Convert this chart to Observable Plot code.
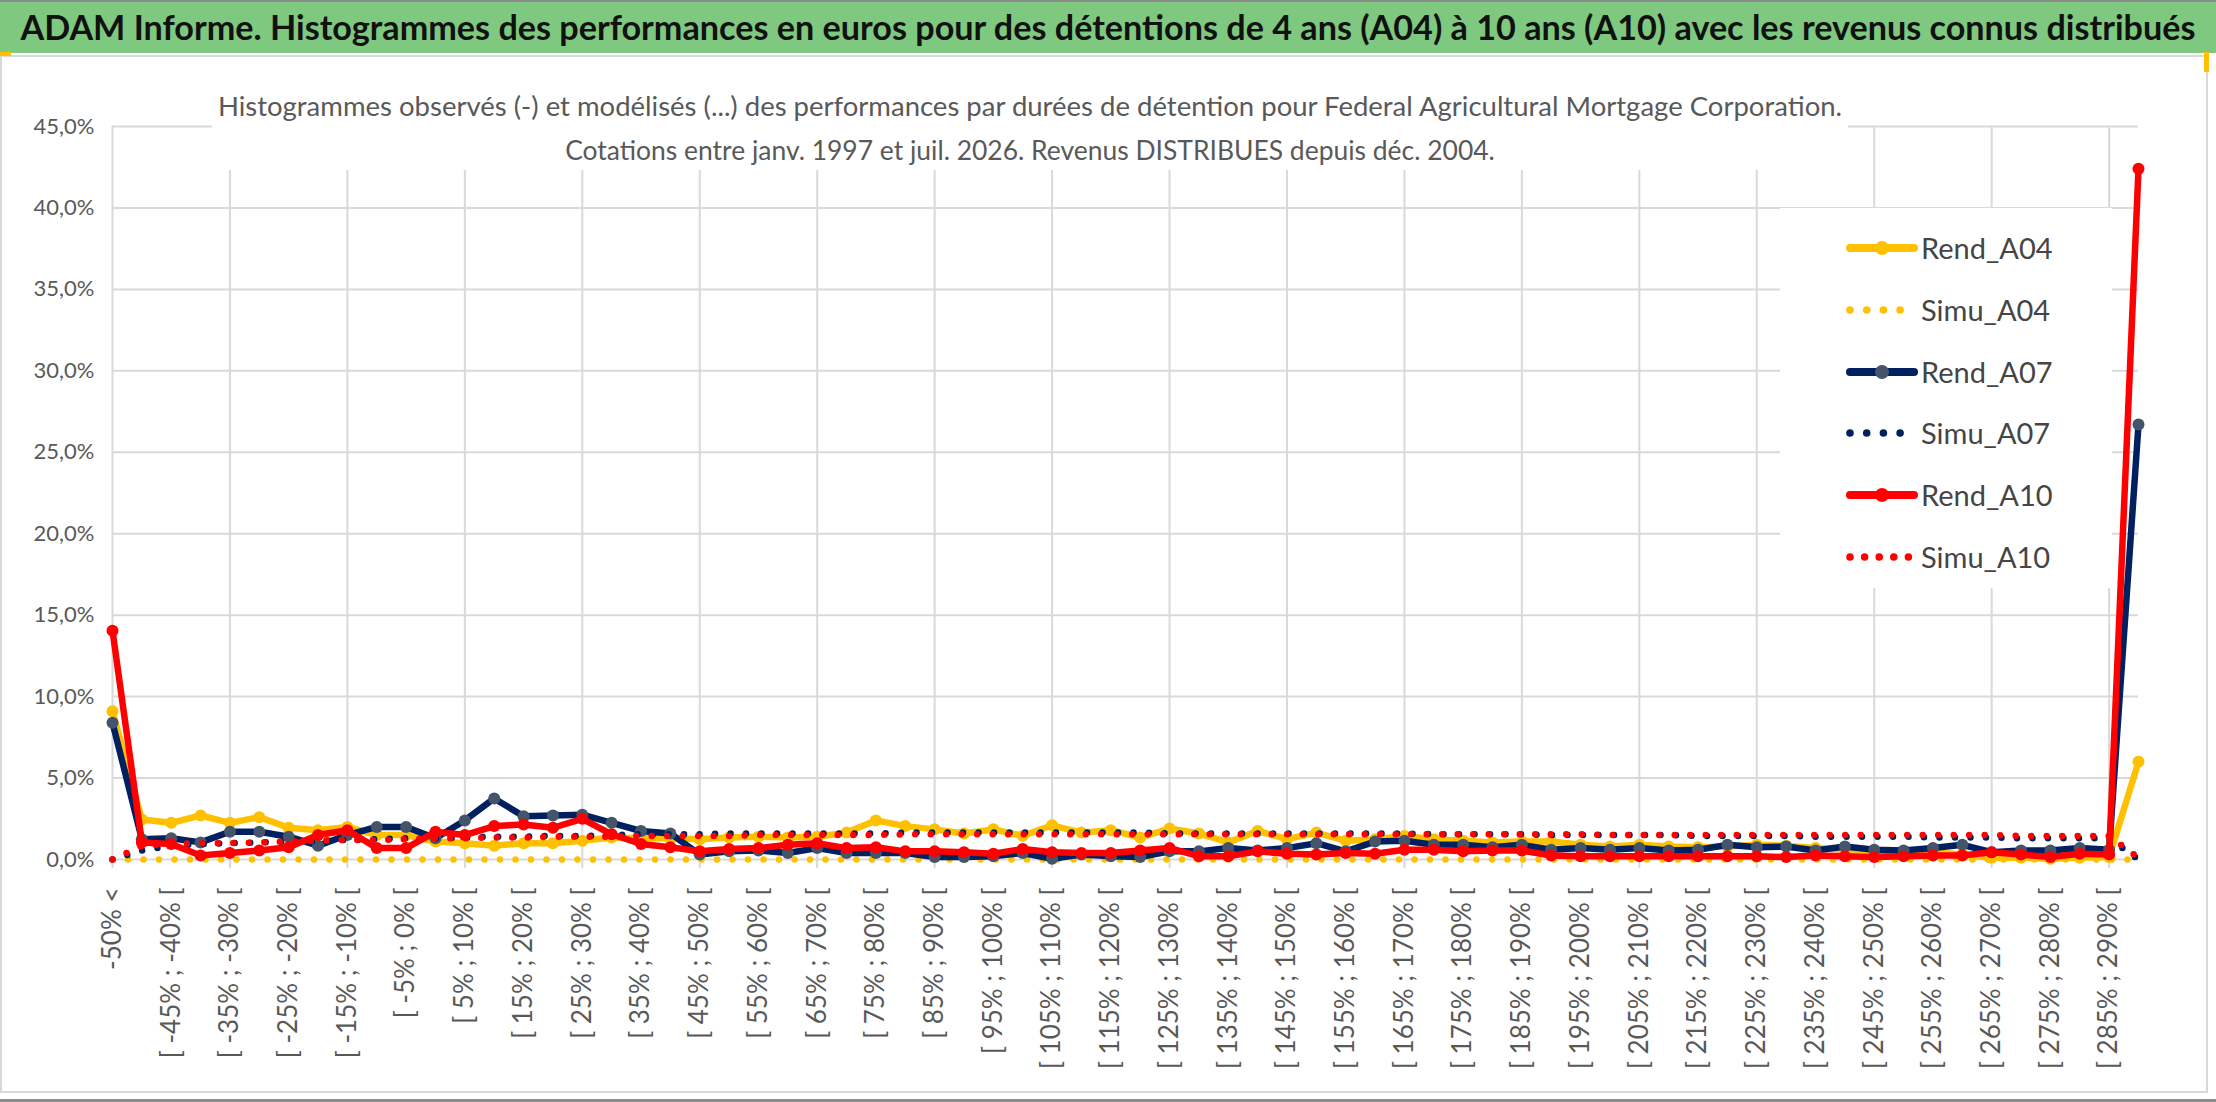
<!DOCTYPE html>
<html>
<head>
<meta charset="utf-8">
<script src="https://cdn.jsdelivr.net/npm/d3@7"></script>
<script src="https://cdn.jsdelivr.net/npm/@observablehq/plot@0.6"></script>
<style>
  body { margin: 0; background: #fff; }
  #page { position: relative; width: 2216px; height: 1102px; overflow: hidden; font-family: Lato, "Open Sans", sans-serif; }
  #title { position: absolute; left: 0; top: 0; width: 2216px; height: 53px; background: #7ec97f;
           border-top: 2px solid #8c8c8c; box-sizing: border-box; text-align: center; line-height: 50px; }
  #title span { display: inline-block; white-space: nowrap; font-weight: 700; color: #111; font-size: 32px; }
  #frame { position: absolute; left: 0; top: 55px; width: 2208px; height: 1038px; border: 2px solid #d9d9d9; box-sizing: border-box; }
  #bottomline { position: absolute; left: 0; top: 1099px; width: 2216px; height: 3px; background: #8c8c8c; }
  #chart { position: absolute; left: 0; top: 56px; }
  #subtitle { position: absolute; left: 212px; top: 86px; width: 1636px; height: 84px; background: #fff;
              text-align: center; line-height: 40px; color: #595959; }
  #subtitle span { display: inline-block; white-space: nowrap; font-size: 25px; }
  #legend { position: absolute; left: 1780px; top: 208px; width: 332px; height: 380px; background: #fff; }
  .item { position: absolute; left: 0; height: 40px; width: 332px; }
  .item svg { position: absolute; left: 62px; top: 0; }
  .item span { position: absolute; left: 141px; top: 0; line-height: 40px; font-size: 29px; color: #454545; white-space: nowrap; }
  .mark { position: absolute; background: #ffc000; }
</style>
</head>
<body>
<div id="page">
  <div id="frame"></div>
  <div id="chart"></div>
  <div id="title"><span>ADAM Informe. Histogrammes des performances en euros pour des détentions de 4 ans (A04) à 10 ans (A10) avec les revenus connus distribués</span></div>
  <div class="mark" style="left:0;top:52px;width:11px;height:4px"></div>
  <div class="mark" style="left:2204px;top:52px;width:5px;height:20px"></div>
  <div id="subtitle">
    <span>Histogrammes observés (-) et modélisés (...) des performances par durées de détention pour Federal Agricultural Mortgage Corporation.</span><br>
    <span>Cotations entre janv. 1997 et juil. 2026. Revenus DISTRIBUES depuis déc. 2004.</span>
  </div>
  <div id="legend"></div>
  <div id="bottomline"></div>
</div>
<script>
// categories of holding performance (classes of 5%)
const categories = [
  "-50% <",
  "[ -50% ; -45% [", "[ -45% ; -40% [", "[ -40% ; -35% [", "[ -35% ; -30% [", "[ -30% ; -25% [",
  "[ -25% ; -20% [", "[ -20% ; -15% [", "[ -15% ; -10% [", "[ -10% ; -5% [", "[ -5% ; 0% [",
  "[ 0% ; 5% [", "[ 5% ; 10% [", "[ 10% ; 15% [", "[ 15% ; 20% [", "[ 20% ; 25% [",
  "[ 25% ; 30% [", "[ 30% ; 35% [", "[ 35% ; 40% [", "[ 40% ; 45% [", "[ 45% ; 50% [",
  "[ 50% ; 55% [", "[ 55% ; 60% [", "[ 60% ; 65% [", "[ 65% ; 70% [", "[ 70% ; 75% [",
  "[ 75% ; 80% [", "[ 80% ; 85% [", "[ 85% ; 90% [", "[ 90% ; 95% [", "[ 95% ; 100% [",
  "[ 100% ; 105% [", "[ 105% ; 110% [", "[ 110% ; 115% [", "[ 115% ; 120% [", "[ 120% ; 125% [",
  "[ 125% ; 130% [", "[ 130% ; 135% [", "[ 135% ; 140% [", "[ 140% ; 145% [", "[ 145% ; 150% [",
  "[ 150% ; 155% [", "[ 155% ; 160% [", "[ 160% ; 165% [", "[ 165% ; 170% [", "[ 170% ; 175% [",
  "[ 175% ; 180% [", "[ 180% ; 185% [", "[ 185% ; 190% [", "[ 190% ; 195% [", "[ 195% ; 200% [",
  "[ 200% ; 205% [", "[ 205% ; 210% [", "[ 210% ; 215% [", "[ 215% ; 220% [", "[ 220% ; 225% [",
  "[ 225% ; 230% [", "[ 230% ; 235% [", "[ 235% ; 240% [", "[ 240% ; 245% [", "[ 245% ; 250% [",
  "[ 250% ; 255% [", "[ 255% ; 260% [", "[ 260% ; 265% [", "[ 265% ; 270% [", "[ 270% ; 275% [",
  "[ 275% ; 280% [", "[ 280% ; 285% [", "[ 285% ; 290% [", "290% >"
];

// values in %
const rendA04 = [
  9.1, 2.45, 2.25, 2.7, 2.25, 2.6, 1.95, 1.8, 2.0, 1.5,
  1.5, 1.1, 1.0, 0.85, 1.0, 1.0, 1.15, 1.35, 1.3, 1.3,
  1.25, 1.35, 1.4, 1.35, 1.4, 1.65, 2.4, 2.05, 1.85, 1.6,
  1.85, 1.45, 2.1, 1.65, 1.8, 1.35, 1.9, 1.6, 1.05, 1.75,
  1.25, 1.65, 1.15, 1.25, 1.45, 1.25, 1.15, 1.05, 1.1, 1.1,
  0.9, 0.8, 0.9, 0.8, 0.75, 0.8, 0.9, 0.85, 0.7, 0.6,
  0.55, 0.5, 0.45, 0.3, 0.1, 0.1, 0.05, 0.1, 0.15, 6.0
];
const simuA04 = [
  0, 0, 0, 0, 0, 0, 0, 0, 0, 0,
  0, 0, 0, 0, 0, 0, 0, 0, 0, 0,
  0, 0, 0, 0, 0, 0, 0, 0, 0, 0,
  0, 0, 0, 0, 0, 0, 0, 0, 0, 0,
  0, 0, 0, 0, 0, 0, 0, 0, 0, 0,
  0, 0, 0, 0, 0, 0, 0, 0, 0, 0,
  0, 0, 0, 0, 0, 0, 0, 0, 0, 0
];
const rendA07 = [
  8.4, 1.25, 1.3, 1.05, 1.7, 1.7, 1.4, 0.85, 1.5, 2.0,
  2.0, 1.3, 2.4, 3.75, 2.65, 2.7, 2.75, 2.25, 1.75, 1.6,
  0.3, 0.5, 0.55, 0.4, 0.7, 0.4, 0.4, 0.4, 0.15, 0.15,
  0.2, 0.4, 0.05, 0.3, 0.2, 0.15, 0.5, 0.5, 0.7, 0.55,
  0.7, 1.0, 0.5, 1.1, 1.15, 0.9, 0.9, 0.75, 0.9, 0.6,
  0.7, 0.6, 0.7, 0.55, 0.6, 0.9, 0.75, 0.8, 0.55, 0.8,
  0.6, 0.55, 0.7, 0.9, 0.45, 0.55, 0.55, 0.7, 0.6, 26.7
];
const simuA07 = [
  0, 0.55, 0.85, 0.95, 1.0, 1.05, 1.1, 1.15, 1.2, 1.25,
  1.3, 1.3, 1.35, 1.4, 1.4, 1.45, 1.45, 1.5, 1.55, 1.55,
  1.55, 1.6, 1.6, 1.6, 1.6, 1.6, 1.6, 1.65, 1.65, 1.65,
  1.65, 1.65, 1.65, 1.65, 1.65, 1.65, 1.6, 1.6, 1.6, 1.6,
  1.6, 1.6, 1.6, 1.6, 1.6, 1.55, 1.55, 1.55, 1.55, 1.5,
  1.5, 1.5, 1.5, 1.5, 1.45, 1.45, 1.45, 1.45, 1.4, 1.4,
  1.4, 1.4, 1.35, 1.35, 1.35, 1.3, 1.3, 1.3, 1.3, 0.0
];
const rendA10 = [
  14.05, 1.05, 0.95, 0.25, 0.4, 0.55, 0.75, 1.5, 1.8, 0.7,
  0.7, 1.7, 1.5, 2.05, 2.15, 1.95, 2.5, 1.55, 0.95, 0.75,
  0.5, 0.65, 0.7, 0.9, 1.0, 0.7, 0.75, 0.5, 0.5, 0.45,
  0.35, 0.65, 0.45, 0.4, 0.4, 0.55, 0.7, 0.2, 0.2, 0.5,
  0.35, 0.3, 0.4, 0.35, 0.6, 0.6, 0.5, 0.55, 0.55, 0.25,
  0.2, 0.2, 0.2, 0.2, 0.2, 0.2, 0.2, 0.15, 0.25, 0.2,
  0.15, 0.2, 0.25, 0.25, 0.45, 0.3, 0.15, 0.35, 0.3, 42.4
];
const simuA10 = [
  0, 0.85, 0.95, 1.0, 1.0, 1.05, 1.1, 1.15, 1.2, 1.2,
  1.25, 1.3, 1.3, 1.35, 1.35, 1.4, 1.4, 1.4, 1.45, 1.45,
  1.45, 1.45, 1.5, 1.5, 1.5, 1.5, 1.5, 1.55, 1.55, 1.55,
  1.55, 1.55, 1.55, 1.55, 1.55, 1.55, 1.55, 1.55, 1.55, 1.55,
  1.55, 1.55, 1.55, 1.55, 1.55, 1.55, 1.55, 1.55, 1.55, 1.55,
  1.55, 1.5, 1.5, 1.5, 1.5, 1.5, 1.5, 1.5, 1.5, 1.5,
  1.5, 1.5, 1.5, 1.5, 1.5, 1.45, 1.45, 1.45, 1.45, 0.1
];

const yTicks = [0, 5, 10, 15, 20, 25, 30, 35, 40, 45];
const gridCats = categories.filter((d, i) => i % 4 === 0);
const labelCats = categories.filter((d, i) => i % 2 === 0);

const series = [
  {name: "Rend_A04", vals: rendA04, kind: "rend", color: "#ffc000", marker: "#ffc000"},
  {name: "Simu_A04", vals: simuA04, kind: "simu", color: "#ffc000"},
  {name: "Rend_A07", vals: rendA07, kind: "rend", color: "#002060", marker: "#44546a"},
  {name: "Simu_A07", vals: simuA07, kind: "simu", color: "#002060"},
  {name: "Rend_A10", vals: rendA10, kind: "rend", color: "#ff0000", marker: "#ff0000"},
  {name: "Simu_A10", vals: simuA10, kind: "simu", color: "#ff0000"}
];

const rows = (vals) => vals.map((v, i) => ({cat: categories[i], v}));
const pct = (d) => d.toFixed(1).replace(".", ",") + "%";

const seriesMarks = series.flatMap((s) => {
  const data = rows(s.vals);
  if (s.kind === "simu") {
    return [Plot.line(data, {x: "cat", y: "v", stroke: s.color, strokeWidth: 6.5,
      strokeDasharray: "0 15.5", strokeLinecap: "round"})];
  }
  return [
    Plot.line(data, {x: "cat", y: "v", stroke: s.color, strokeWidth: 6.5}),
    Plot.dot(data, {x: "cat", y: "v", r: 6, fill: s.marker})
  ];
});

const chart = Plot.plot({
  width: 2216,
  height: 1046,
  marginLeft: 112,
  marginRight: 78,
  marginTop: 70,
  marginBottom: 243,
  style: {background: "transparent", fontFamily: "Lato, 'Open Sans', sans-serif", overflow: "visible"},
  x: {type: "point", domain: categories, padding: 0, round: false},
  y: {domain: [0, 45]},
  marks: [
    Plot.gridY(yTicks, {stroke: "#d9d9d9", strokeOpacity: 1, strokeWidth: 2}),
    Plot.gridX(gridCats, {stroke: "#d9d9d9", strokeOpacity: 1, strokeWidth: 2}),
    Plot.axisX(gridCats, {tickSize: 9, tickFormat: () => "", stroke: "#d9d9d9", strokeWidth: 2, label: null}),
    Plot.axisY(yTicks, {tickSize: 0, tickPadding: 18, tickFormat: pct, fontSize: 22, color: "#595959", label: null}),
    Plot.text(labelCats, {x: (d) => d, frameAnchor: "bottom", dy: 28, rotate: -90,
      textAnchor: "end", lineAnchor: "middle", fontSize: 26, fill: "#595959"}),
    ...seriesMarks
  ]
});
document.getElementById("chart").appendChild(chart);

// legend
const legend = document.getElementById("legend");
const rowY = [40, 102, 164, 225, 287, 349];
series.forEach((s, i) => {
  const item = document.createElement("div");
  item.className = "item";
  item.style.top = (rowY[i] - 20) + "px";
  let g;
  if (s.kind === "rend") {
    g = `<line x1="8" y1="20" x2="72" y2="20" stroke="${s.color}" stroke-width="8" stroke-linecap="round"/>` +
        `<circle cx="40" cy="20" r="7" fill="${s.marker}"/>`;
  } else {
    const n = s.name === "Simu_A10" ? 5 : 4;
    const step = s.name === "Simu_A10" ? 14.6 : 16.7;
    g = d3.range(n).map((k) => `<circle cx="${8 + k * step}" cy="20" r="3.8" fill="${s.color}"/>`).join("");
  }
  item.innerHTML = `<svg width="80" height="40">${g}</svg><span>${s.name}</span>`;
  legend.appendChild(item);
});

// fit text widths to the reference layout
function fitWidth(el, target) {
  const w = el.getBoundingClientRect().width;
  const fs = parseFloat(getComputedStyle(el).fontSize);
  el.style.fontSize = (fs * target / w).toFixed(2) + "px";
}
fitWidth(document.querySelector("#title span"), 2176);
const subs = document.querySelectorAll("#subtitle span");
fitWidth(subs[0], 1625);
fitWidth(subs[1], 930);
</script>
</body>
</html>
